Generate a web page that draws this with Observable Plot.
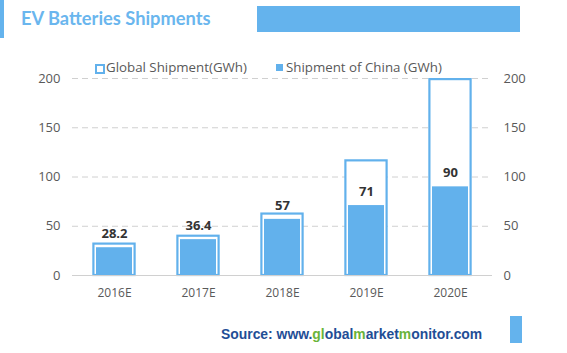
<!DOCTYPE html>
<html><head><meta charset="utf-8">
<script src="https://cdn.jsdelivr.net/npm/d3@7"></script>
<script src="https://cdn.jsdelivr.net/npm/@observablehq/plot@0.6"></script>
<style>
body{margin:0;background:#fff;}
#wrap{position:relative;width:567px;height:353px;overflow:hidden;font-family:"Open Sans",sans-serif;}
#wrap svg{position:absolute;left:0;top:0;}
.abs{position:absolute;}
</style></head><body>
<div id="wrap">
  <div class="abs" style="left:0;top:0;width:4px;height:38px;background:#64b3ed"></div>
  <div class="abs" style="left:21px;top:7px;font-size:18.3px;font-weight:bold;color:#6ab6ee;font-family:'Lato',sans-serif;">EV Batteries Shipments</div>
  <div class="abs" style="left:257px;top:6px;width:263px;height:26px;background:#64b3ed"></div>
  <div class="abs" style="left:510px;top:316px;width:12px;height:27px;background:#64b3ed"></div>
  <div id="legend" class="abs" style="left:0;top:60px;font-size:13.3px;color:#595959;white-space:nowrap"></div>
  <div class="abs" style="left:221px;top:326px;font-family:'Liberation Sans',Arial,sans-serif;font-weight:bold;font-size:13.9px;color:#1f4e96;white-space:nowrap">Source: www.<span style="color:#6ab43a">gl</span>obal<span style="color:#6ab43a">m</span>arket<span style="color:#6ab43a">m</span>onitor.com</div>
</div>
<script>
const years = ["2016E","2017E","2018E","2019E","2020E"];
const globalShipment = [33, 41, 63.5, 117.5, 200];
const chinaShipment = [28.2, 36.4, 57, 71, 90];
const chinaLabels = ["28.2","36.4","57","71","90"];
const yTicks = [0, 50, 100, 150, 200];
const seriesNames = ["Global Shipment(GWh)", "Shipment of China (GWh)"];

const blue = "#62b1ec";
const rows = years.map((y,i)=>({year:y, global:globalShipment[i], china:chinaShipment[i], label:chinaLabels[i]}));

const chart = Plot.plot({
  width:567, height:353,
  marginLeft:72, marginRight:75, marginTop:78, marginBottom:78,
  style:{fontFamily:"'Open Sans',sans-serif", fontSize:"12px", color:"#595959", background:"transparent"},
  x:{domain:years, padding:0, label:null},
  y:{domain:[0,200], label:null},
  marks:[
    Plot.gridY(yTicks, {stroke:"#d0d0d0", strokeOpacity:1, strokeDasharray:"6,4", strokeWidth:1}),
    Plot.barY(rows, {x:"year", y:"global", fill:"white", stroke:blue, strokeWidth:2.2, insetLeft:21.4, insetRight:21.4, insetTop:1.1}),
    Plot.barY(rows, {x:"year", y:"china", fill:blue, insetLeft:24, insetRight:24}),
    Plot.ruleY([0], {stroke:"#d0d0d0", strokeWidth:1}),
    Plot.text(rows, {x:"year", y:"china", text:"label", dy:-14, fontWeight:"bold", fontSize:13, fill:"#333"}),
    Plot.axisY(yTicks, {anchor:"left", tickSize:0, tickPadding:12, fontSize:13, fill:"#595959"}),
    Plot.axisY(yTicks, {anchor:"right", tickSize:0, tickPadding:11, fontSize:13, fill:"#595959"}),
    Plot.axisX({tickSize:0, tickPadding:13, fontSize:12, fill:"#595959"})
  ]
});
document.getElementById("wrap").prepend(chart);

const leg = document.getElementById("legend");
leg.innerHTML =
  `<span class="abs" style="left:95px;top:4px;width:6px;height:6px;border:2px solid ${blue};background:#fff"></span>`+
  `<span class="abs" style="left:106px;top:-2px">${seriesNames[0]}</span>`+
  `<span class="abs" style="left:276px;top:4px;width:7px;height:7px;background:${blue}"></span>`+
  `<span class="abs" style="left:286px;top:-2px">${seriesNames[1]}</span>`;
</script>
</body></html>
